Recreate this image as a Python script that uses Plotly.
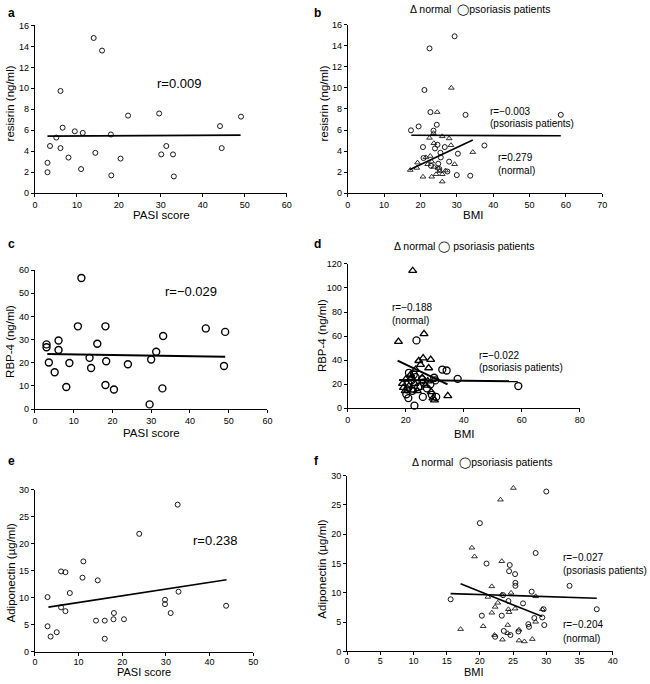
import plotly.graph_objects as go

# ---------------- data ----------------
# (a) PASI vs resistin (psoriasis patients)
a_pasi = [14.0, 16.0, 6.1, 6.6, 9.5, 11.4, 18.1, 22.2, 29.6, 44.1, 49.1, 3.6, 5.1, 6.1, 8.0,
          3.0, 3.0, 11.0, 14.4, 20.4, 18.2, 30.1, 31.3, 32.9, 33.1, 44.5]
a_resistin = [14.8, 13.6, 9.75, 6.25, 5.9, 5.75, 5.6, 7.4, 7.6, 6.4, 7.3, 4.5, 5.3, 4.3, 3.4,
              2.9, 2.0, 2.3, 3.85, 3.3, 1.7, 3.7, 4.5, 3.7, 1.6, 4.3]
a_fit_x = [3.0, 49.0]
a_fit_y = [5.44, 5.54]

# (b) BMI vs resistin
b_pso_bmi = [29.4, 22.5, 21.1, 22.75, 32.4, 58.6, 17.4, 19.5, 24.5, 23.6, 20.7, 24.7, 26.7,
             30.3, 37.6, 20.85, 25.5, 27.4, 27.9, 22.9, 30.0, 33.7, 24.9, 25.2, 25.6, 24.0]
b_pso_res = [14.9, 13.75, 9.8, 7.7, 7.44, 7.44, 5.97, 6.34, 6.5, 5.94, 4.38, 4.6, 4.38,
             3.75, 4.53, 3.34, 3.84, 2.06, 3.0, 2.6, 1.72, 1.66, 2.8, 2.3, 3.4, 4.25]
b_nor_bmi = [28.5, 24.6, 23.6, 22.5, 26.0, 27.9, 23.7, 28.4, 34.4, 22.7, 23.1, 22.0, 23.7,
             24.8, 19.2, 17.2, 19.0, 20.7, 23.1, 24.3, 26.0, 26.0, 26.9, 29.4, 25.3, 21.5]
b_nor_res = [10.0, 7.7, 5.7, 5.25, 5.4, 5.2, 4.75, 4.56, 3.9, 3.53, 3.0, 2.75, 2.5,
             2.4, 2.9, 2.2, 2.4, 1.56, 1.56, 1.8, 1.8, 1.1, 2.15, 2.75, 2.1, 3.4]
b_pso_fit_x = [17.5, 58.6]
b_pso_fit_y = [5.5, 5.45]
b_nor_fit_x = [17.0, 34.4]
b_nor_fit_y = [2.22, 5.06]

# (c) PASI vs RBP-4
c_pasi = [12.0, 3.0, 3.0, 6.1, 6.1, 3.6, 5.1, 8.9, 8.1, 11.1, 18.2, 16.1, 14.1, 14.5, 18.4,
          18.2, 20.4, 24.0, 30.0, 31.3, 33.1, 32.9, 29.6, 44.1, 49.1, 48.8]
c_rbp4 = [56.6, 27.9, 26.7, 29.6, 25.5, 20.1, 15.9, 19.9, 9.5, 35.7, 35.7, 28.2, 22.1, 17.7, 20.6,
          10.4, 8.4, 19.3, 21.4, 24.7, 31.5, 8.9, 2.0, 34.8, 33.3, 18.6]
c_fit_x = [3.2, 49.1]
c_fit_y = [23.8, 22.55]

# (d) BMI vs RBP-4
d_nor_bmi = [22.4, 17.5, 26.3, 26.0, 28.6, 24.5, 25.1, 27.9, 23.4, 21.7, 18.9, 19.2, 21.1,
             22.5, 24.0, 25.7, 27.6, 28.8, 29.4, 29.9, 34.5, 20.0, 26.8, 23.1, 19.8, 22.0]
d_nor_rbp = [114.3, 55.4, 61.9, 41.7, 40.4, 39.5, 36.3, 33.5, 32.2, 28.1, 20.5, 17.2, 18.5,
             15.0, 14.5, 25.4, 22.6, 13.6, 8.5, 6.8, 10.4, 24.0, 19.1, 20.5, 14.5, 25.4]
d_pso_bmi = [23.7, 34.1, 32.6, 37.9, 58.8, 20.9, 23.0, 25.9, 30.5, 21.1, 22.8, 22.0, 25.6,
             28.5, 29.8, 24.3, 20.9, 30.2, 20.2, 29.0, 22.3, 25.1, 26.2, 23.4, 27.3, 20.6]
d_pso_rbp = [56.4, 31.4, 32.2, 24.5, 18.5, 8.5, 2.2, 9.5, 9.5, 29.5, 28.1, 23.2, 24.0,
             19.9, 25.4, 17.7, 20.5, 23.2, 11.7, 11.2, 14.5, 18.5, 21.3, 25.9, 16.6, 15.8]
d_pso_fit_x = [17.7, 58.6]
d_pso_fit_y = [23.5, 22.4]
d_nor_fit_x = [17.2, 34.4]
d_nor_fit_y = [39.6, 19.9]

# (e) PASI vs adiponectin
e_pasi = [2.9, 2.9, 3.6, 5.0, 6.0, 7.0, 6.0, 7.0, 8.0, 10.9, 11.1, 14.4, 14.0, 16.0, 16.0,
          18.0, 18.1, 20.4, 23.9, 29.8, 29.8, 31.1, 32.7, 32.9, 43.8]
e_adipo = [10.1, 4.7, 2.8, 3.6, 14.85, 14.7, 8.2, 7.5, 10.85, 13.7, 16.7, 13.2, 5.75, 5.75, 2.4,
           6.0, 7.15, 6.0, 21.8, 9.6, 8.8, 7.15, 27.2, 11.1, 8.5]
e_fit_x = [3.1, 43.9]
e_fit_y = [8.25, 13.3]

# (f) BMI vs adiponectin
f_nor_bmi = [25.05, 23.1, 18.8, 19.2, 23.3, 21.8, 24.7, 23.3, 28.4, 21.2, 22.7, 22.3, 21.8, 24.3,
             24.4, 25.3, 29.4, 28.4, 17.1, 20.5, 24.2, 22.2, 23.4, 25.9, 26.7, 27.9, 25.9, 24.2]
f_nor_adi = [27.9, 25.9, 17.7, 16.2, 15.4, 11.1, 10.0, 9.7, 9.4, 9.3, 8.3, 7.6, 6.6, 7.2,
             6.7, 7.3, 7.2, 5.05, 3.8, 4.3, 4.5, 2.8, 2.0, 1.85, 1.7, 2.1, 3.7, 3.1]
f_pso_bmi = [30.0, 20.0, 28.4, 21.0, 24.5, 24.4, 25.3, 25.35, 25.35, 33.5, 15.6, 27.8, 23.5, 26.5,
             24.3, 37.6, 29.6, 20.3, 23.3, 28.2, 29.4, 27.3, 27.4, 29.7, 25.8, 23.6, 24.6, 22.3]
f_pso_adi = [27.3, 21.9, 16.8, 15.0, 14.75, 13.7, 13.2, 11.7, 11.2, 11.2, 8.9, 10.2, 9.6, 8.2,
             8.6, 7.2, 7.2, 6.1, 6.1, 5.7, 5.8, 4.65, 4.2, 4.5, 3.4, 3.5, 2.8, 2.5]
f_pso_fit_x = [15.6, 37.6]
f_pso_fit_y = [9.87, 9.09]
f_nor_fit_x = [17.1, 29.4]
f_nor_fit_y = [11.55, 5.95]

# ---------------- layout helpers ----------------
W, H = 650, 684
FONT = "Arial, Liberation Sans, sans-serif"


def px_x(p):
    return p / W


def px_y(p):
    return 1 - p / H


def xdom(l, r):
    return [px_x(l), px_x(r)]


def ydom(t, b):
    return [px_y(b), px_y(t)]


def axis(domain, rng, dtick, anchor, standoff=0):
    d = dict(domain=domain, range=rng, dtick=dtick, tick0=0, showline=True,
             linecolor="black", linewidth=1, ticks="outside", ticklen=3, tickwidth=1,
             tickcolor="black", showgrid=False, zeroline=False, anchor=anchor,
             tickfont=dict(size=9, color="black", family=FONT), fixedrange=True)
    if standoff:
        d["ticklabelstandoff"] = standoff
    return d


fig = go.Figure()


def pts(x, y, sym, size, lw, xa, ya):
    fig.add_trace(go.Scatter(x=x, y=y, mode="markers", xaxis=xa, yaxis=ya,
                             marker=dict(symbol=sym, size=size, color="black",
                                         line=dict(width=lw, color="black")),
                             showlegend=False, cliponaxis=False))


def fit(x, y, xa, ya, w=1.6):
    fig.add_trace(go.Scatter(x=x, y=y, mode="lines", xaxis=xa, yaxis=ya,
                             line=dict(color="black", width=w), showlegend=False))


# a
pts(a_pasi, a_resistin, "circle-open", 5, 0.9, "x", "y")
fit(a_fit_x, a_fit_y, "x", "y")
# b
pts(b_nor_bmi, b_nor_res, "triangle-up-open", 5, 0.8, "x2", "y2")
pts(b_pso_bmi, b_pso_res, "circle-open", 5, 0.9, "x2", "y2")
fit(b_pso_fit_x, b_pso_fit_y, "x2", "y2")
fit(b_nor_fit_x, b_nor_fit_y, "x2", "y2")
# c
pts(c_pasi, c_rbp4, "circle-open", 7, 1.4, "x3", "y3")
fit(c_fit_x, c_fit_y, "x3", "y3", 2)
# d
pts(d_nor_bmi, d_nor_rbp, "triangle-up-open", 7, 1.3, "x4", "y4")
pts(d_pso_bmi, d_pso_rbp, "circle-open", 7, 1.3, "x4", "y4")
fit(d_pso_fit_x, d_pso_fit_y, "x4", "y4", 2)
fit(d_nor_fit_x, d_nor_fit_y, "x4", "y4", 2)
# e
pts(e_pasi, e_adipo, "circle-open", 5, 0.9, "x5", "y5")
fit(e_fit_x, e_fit_y, "x5", "y5")
# f
pts(f_nor_bmi, f_nor_adi, "triangle-up-open", 5, 0.8, "x6", "y6")
pts(f_pso_bmi, f_pso_adi, "circle-open", 5, 0.9, "x6", "y6")
fit(f_pso_fit_x, f_pso_fit_y, "x6", "y6")
fit(f_nor_fit_x, f_nor_fit_y, "x6", "y6")

layout = dict(
    width=W, height=H, margin=dict(l=0, r=0, t=0, b=0),
    paper_bgcolor="white", plot_bgcolor="white", showlegend=False,
    font=dict(family=FONT, color="black"),
    xaxis=axis(xdom(32.3, 287.3), [0, 60], 10, "y"),
    yaxis=axis(ydom(20.7, 191), [0, 16], 2, "x"),
    xaxis2=axis(xdom(349, 606.7), [0, 70], 10, "y2"),
    yaxis2=axis(ydom(20, 191), [0, 16], 2, "x2"),
    xaxis3=axis(xdom(32.3, 267.7), [0, 60], 10, "y3"),
    yaxis3=axis(ydom(269, 410), [0, 60], 10, "x3"),
    xaxis4=axis(xdom(349, 584), [0, 80], 20, "y4"),
    yaxis4=axis(ydom(262.7, 409.3), [0, 120], 20, "x4"),
    xaxis5=axis(xdom(32.3, 253.3), [0, 50], 10, "y5", -2),
    yaxis5=axis(ydom(491.7, 656.3), [0, 30], 5, "x5"),
    xaxis6=axis(xdom(348.3, 617.3), [0, 40], 5, "y6", -2),
    yaxis6=axis(ydom(477.7, 656), [0, 30], 5, "x6"),
)
fig.update_layout(**layout)

ann = []


def text(t, x, y, size=11, xanchor="center", angle=0, bold=False):
    ann.append(dict(text=("<b>%s</b>" % t) if bold else t, x=px_x(x), y=px_y(y),
                    xref="paper", yref="paper", xanchor=xanchor, yanchor="middle",
                    showarrow=False, textangle=angle,
                    font=dict(size=size, family=FONT, color="black")))


# panel letters
for lab, x, y in [("a", 3, 8), ("b", 313, 8), ("c", 3, 243), ("d", 313, 243),
                  ("e", 3, 463), ("f", 313, 463)]:
    text(lab, x, y, size=12, xanchor="left", bold=True)

# axis titles
TS = 11.5
text("PASI score", 160, 213, size=TS)
text("BMI", 476, 213, size=TS)
text("PASI score", 150, 434, size=TS)
text("BMI", 467, 435, size=TS)
text("PASI score", 143, 677, size=11)
text("BMI", 477, 677, size=11)
text("resisrin (ng/ml)", 7, 100, size=TS, angle=-90)
text("resisrin (ng/ml)", 325, 100, size=TS, angle=-90)
text("RBP-4 (ng/ml)", 7, 341, size=TS, angle=-90)
text("RBP-4 (ng/ml)", 323, 336, size=TS, angle=-90)
text("Adiponectin (µg/ml)", 8, 576, size=TS, angle=-90)
text("Adiponectin (µg/ml)", 323, 573, size=TS, angle=-90)

# legends
BIG = "◯"
text("Δ normal  " + BIG + "psoriasis patients", 483, 5, size=10.5)
text("Δ normal " + BIG + " psoriasis patients", 467, 245, size=10.5)
text("Δ normal  " + BIG + "psoriasis patients", 485, 464, size=10.5)

# r values
text("r=0.009", 178, 80, size=13)
text("r=−0.029", 190, 291, size=13)
text("r=0.238", 215, 543, size=13)
RS = 10
text("r=−0.003", 491, 108, size=RS, xanchor="left")
text("(psoriasis patients)", 491, 120, size=RS, xanchor="left")
text("r=0.279", 499, 155, size=RS, xanchor="left")
text("(normal)", 499, 168, size=RS, xanchor="left")
text("r=−0.188", 392, 307, size=RS, xanchor="left")
text("(normal)", 392, 320, size=RS, xanchor="left")
text("r=−0.022", 480, 356, size=RS, xanchor="left")
text("(psoriasis patients)", 480, 368, size=RS, xanchor="left")
text("r=−0.027", 565, 561, size=RS, xanchor="left")
text("(psoriasis patients)", 565, 574, size=RS, xanchor="left")
text("r=−0.204", 565, 629, size=RS, xanchor="left")
text("(normal)", 565, 643, size=RS, xanchor="left")

fig.update_layout(annotations=ann)
fig.write_html("out.html", config={"displayModeBar": False},
               post_script="document.body.style.margin='0';document.body.style.padding='0';"
                           "document.documentElement.style.overflow='hidden';")
